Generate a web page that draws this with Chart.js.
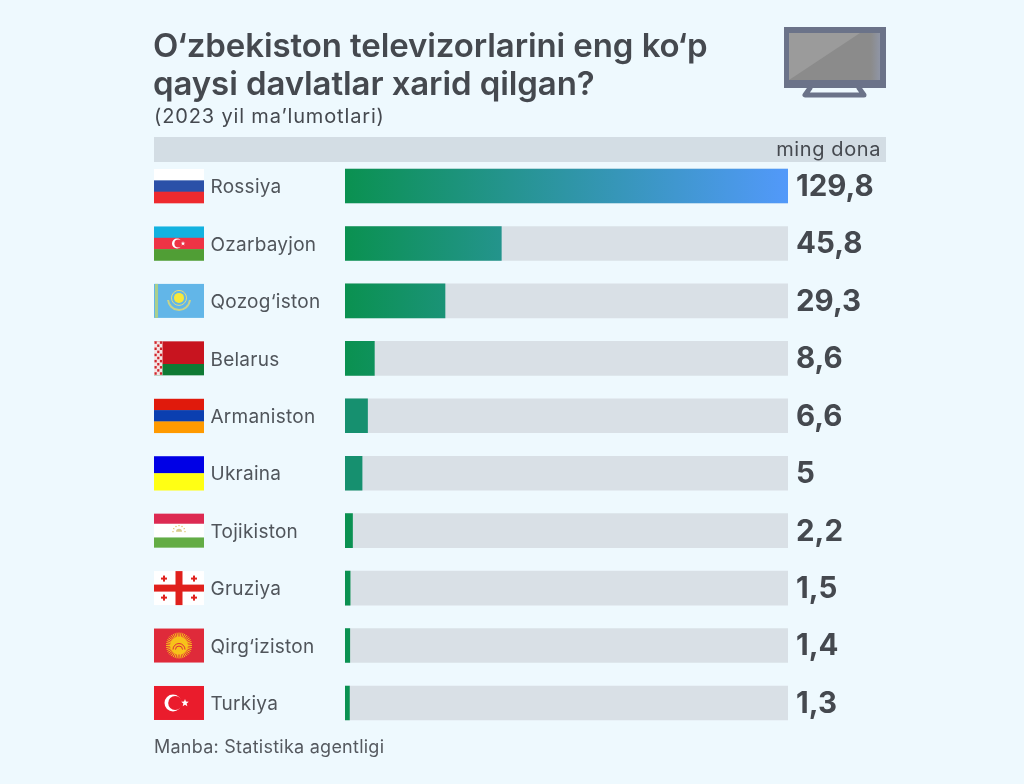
<!DOCTYPE html>
<html>
<head>
<meta charset="utf-8">
<title>Televizor eksporti</title>
<script src="https://cdn.jsdelivr.net/npm/chart.js@4"></script>
<style>
  html, body { margin: 0; padding: 0; background: #eef9fe; }
  #page { position: relative; width: 1024px; height: 784px; overflow: hidden; font-family: Inter, sans-serif; color: #45494f; }
  #page canvas { position: absolute; left: 0; top: 0; }
  .txt { position: absolute; white-space: nowrap; }
  #title { left: 153px; top: 26px; font-size: 33px; line-height: 38px; font-weight: 600; letter-spacing: -0.1px; }
  #subtitle { left: 154px; top: 104px; font-size: 20px; line-height: 24px; letter-spacing: 0.85px; }
  #band { position: absolute; left: 154px; top: 137px; width: 732px; height: 25px; background: #d3dde4; }
  #unit { right: 143px; top: 137px; font-size: 20px; line-height: 24px; letter-spacing: 0.6px; }
  #source { left: 154px; top: 736px; font-size: 18px; line-height: 22px; letter-spacing: 0.25px; color: #55595f; }
  #tv { position: absolute; left: 784px; top: 27px; }
</style>
</head>
<body>
<div id="page">
  <div id="band"></div>
  <canvas id="chart" width="1024" height="784"></canvas>
  <div class="txt" id="title">O‘zbekiston televizorlarini eng ko‘p<br>qaysi davlatlar xarid qilgan?</div>
  <div class="txt" id="subtitle">(2023 yil ma’lumotlari)</div>
  <div class="txt" id="unit">ming dona</div>
  <div class="txt" id="source">Manba: Statistika agentligi</div>
  <svg id="tv" width="102" height="73" viewBox="0 0 102 73">
    <defs>
      <linearGradient id="edge" x1="0" x2="1" y1="0" y2="0">
        <stop offset="0.9" stop-color="#8b8b8b"/>
        <stop offset="1" stop-color="#8f95a5"/>
      </linearGradient>
    </defs>
    <rect x="0" y="0" width="102" height="61" fill="#6b7389"/>
    <rect x="5" y="6" width="91" height="47" fill="url(#edge)"/>
    <path d="M5 53 L5 6 L76 6 Z" fill="#9b9b9b"/>
    <path d="M26 61 L21 68 L80 68 L75 61" fill="none" stroke="#6b7389" stroke-width="5" stroke-linecap="round" stroke-linejoin="round"/>
  </svg>
</div>

<script>
// Data
const countries = ['Rossiya', 'Ozarbayjon', 'Qozog‘iston', 'Belarus', 'Armaniston', 'Ukraina', 'Tojikiston', 'Gruziya', 'Qirg‘iziston', 'Turkiya'];
const values = [129.8, 45.8, 29.3, 8.6, 6.6, 5, 2.2, 1.5, 1.4, 1.3];
const axisMax = 129.8;
const trackValues = countries.map(() => axisMax);

function stripes(ctx, x, y, w, h, colors) {
  colors.forEach((c, i) => {
    ctx.fillStyle = c;
    ctx.fillRect(x, y + h * i / colors.length, w, h / colors.length + 0.3);
  });
}

function crescent(ctx, cx, cy, r, cut, offset, color, bg) {
  ctx.fillStyle = color;
  ctx.beginPath(); ctx.arc(cx, cy, r, 0, Math.PI * 2); ctx.fill();
  ctx.fillStyle = bg;
  ctx.beginPath(); ctx.arc(cx + offset, cy, cut, 0, Math.PI * 2); ctx.fill();
}

function star(ctx, cx, cy, r, color) {
  ctx.fillStyle = color;
  ctx.beginPath();
  for (let i = 0; i < 10; i++) {
    const a = -Math.PI / 2 + i * Math.PI / 5;
    const rr = i % 2 ? r * 0.42 : r;
    ctx.lineTo(cx + Math.cos(a) * rr, cy + Math.sin(a) * rr);
  }
  ctx.closePath();
  ctx.fill();
}

// Flags, same order as countries
const flags = [
  (c, x, y, w, h) => stripes(c, x, y, w, h, ['#ffffff', '#2a50a8', '#ee2a2e']),
  (c, x, y, w, h) => {
    stripes(c, x, y, w, h, ['#12b2e0', '#ee3345', '#509e35']);
    crescent(c, x + w / 2 - 2, y + h / 2, 5, 4, 1.4, '#ffffff', '#ee3345');
    star(c, x + w / 2 + 4, y + h / 2, 2.4, '#ffffff');
  },
  (c, x, y, w, h) => {
    c.fillStyle = '#62b6e8'; c.fillRect(x, y, w, h);
    c.fillStyle = '#a9cf8e'; c.fillRect(x + 1, y, 3, h);
    c.strokeStyle = '#c9d48a'; c.lineWidth = 2;
    c.beginPath(); c.arc(x + w / 2, y + h / 2 - 2, 11, 0.1, Math.PI - 0.1); c.stroke();
    c.strokeStyle = '#e2dc7c'; c.lineWidth = 1;
    c.beginPath(); c.arc(x + w / 2, y + h / 2 - 3, 7.5, 0, Math.PI * 2); c.stroke();
    c.fillStyle = '#f6e83a';
    c.beginPath(); c.arc(x + w / 2, y + h / 2 - 3, 5, 0, Math.PI * 2); c.fill();
  },
  (c, x, y, w, h) => {
    c.fillStyle = '#c8141f'; c.fillRect(x, y, w, h * 2 / 3);
    c.fillStyle = '#0f7a34'; c.fillRect(x, y + h * 2 / 3, w, h / 3);
    c.fillStyle = '#f4e4e4'; c.fillRect(x, y, 8.5, h);
    c.fillStyle = '#d0242c';
    for (let r = 0; r < 11; r++) {
      for (let q = 0; q < 3; q++) {
        if ((r + q) % 2 === 0) c.fillRect(x + 0.5 + q * 2.7, y + r * h / 11, 2.2, h / 11 - 0.6);
      }
    }
  },
  (c, x, y, w, h) => stripes(c, x, y, w, h, ['#e01a0c', '#0b3fb0', '#ff9a00']),
  (c, x, y, w, h) => stripes(c, x, y, w, h, ['#0000e6', '#ffff14']),
  (c, x, y, w, h) => {
    c.fillStyle = '#dd2a52'; c.fillRect(x, y, w, h * 0.3);
    c.fillStyle = '#ffffff'; c.fillRect(x, y + h * 0.3, w, h * 0.4);
    c.fillStyle = '#63ac45'; c.fillRect(x, y + h * 0.7, w, h * 0.3);
    c.fillStyle = '#d9c98a';
    c.beginPath(); c.arc(x + w / 2, y + h / 2 + 1, 3, Math.PI, 0); c.fill();
    for (let i = 0; i < 7; i++) {
      const a = Math.PI + i * Math.PI / 6;
      star(c, x + w / 2 + Math.cos(a) * 6, y + h / 2 + 1 + Math.sin(a) * 6, 1, '#d9b44a');
    }
  },
  (c, x, y, w, h) => {
    c.fillStyle = '#ffffff'; c.fillRect(x, y, w, h);
    c.fillStyle = '#e0201c';
    c.fillRect(x + w / 2 - 3.5, y, 7, h);
    c.fillRect(x, y + h / 2 - 3.5, w, 7);
    [[0.2, 0.22], [0.8, 0.22], [0.2, 0.78], [0.8, 0.78]].forEach(p => {
      c.fillRect(x + w * p[0] - 3, y + h * p[1] - 1, 6, 2);
      c.fillRect(x + w * p[0] - 1, y + h * p[1] - 3, 2, 6);
    });
  },
  (c, x, y, w, h) => {
    const cx = x + w / 2, cy = y + h / 2;
    c.fillStyle = '#df2a3a'; c.fillRect(x, y, w, h);
    c.strokeStyle = '#f7c21a'; c.lineWidth = 1;
    for (let i = 0; i < 40; i++) {
      const a = i * Math.PI / 20;
      c.beginPath();
      c.moveTo(cx + Math.cos(a) * 8, cy + Math.sin(a) * 8);
      c.lineTo(cx + Math.cos(a) * 13, cy + Math.sin(a) * 13);
      c.stroke();
    }
    c.fillStyle = '#f7c21a'; c.beginPath(); c.arc(cx, cy, 9, 0, Math.PI * 2); c.fill();
    c.strokeStyle = '#df2a3a'; c.lineWidth = 1;
    c.beginPath(); c.arc(cx, cy + 4, 6, Math.PI, 0); c.stroke();
    c.beginPath(); c.arc(cx, cy + 4, 3.5, Math.PI, 0); c.stroke();
  },
  (c, x, y, w, h) => {
    c.fillStyle = '#ea1c2c'; c.fillRect(x, y, w, h);
    crescent(c, x + 19, y + h / 2, 8.5, 7, 2.2, '#ffffff', '#ea1c2c');
    star(c, x + 31, y + h / 2, 4, '#ffffff');
  }
];

const flagPlugin = {
  id: 'flags',
  afterDatasetsDraw(chart) {
    const { ctx, scales: { y } } = chart;
    countries.forEach((name, i) => {
      const cy = y.getPixelForValue(i);
      flags[i](ctx, 154, cy - 17, 50, 34);
    });
  }
};

// Country names and values sit slightly under the bar centre in the original
const rowLabels = {
  id: 'rowLabels',
  afterDatasetsDraw(chart) {
    const { ctx, chartArea, scales: { y } } = chart;
    ctx.save();
    ctx.textAlign = 'left';
    ctx.textBaseline = 'middle';
    ctx.font = '400 19px Inter, sans-serif';
    ctx.letterSpacing = '0.25px';
    ctx.fillStyle = '#50555b';
    countries.forEach((name, i) => ctx.fillText(name, 210.5, y.getPixelForValue(i) + 1.5));
    ctx.font = '700 29.5px Inter, sans-serif';
    ctx.letterSpacing = '0px';
    ctx.fillStyle = '#45494f';
    values.forEach((v, i) => {
      ctx.fillText(String(v).replace('.', ','), chartArea.right + 8, y.getPixelForValue(i) + 1);
    });
    ctx.restore();
  }
};

function barColor(context) {
  const { ctx, chartArea } = context.chart;
  if (!chartArea) return '#0a9150';
  // Armaniston and Ukraina are a flat teal in the original
  if (context.dataIndex === 4 || context.dataIndex === 5) return '#16906f';
  const g = ctx.createLinearGradient(chartArea.left, 0, chartArea.right, 0);
  g.addColorStop(0, '#0a9150');
  g.addColorStop(1, '#5299fa');
  return g;
}

new Chart(document.getElementById('chart').getContext('2d'), {
  type: 'bar',
  data: {
    labels: countries,
    datasets: [
      { label: 'ming dona', data: values, backgroundColor: barColor, barThickness: 34, grouped: false, order: 1 },
      { label: 'fon', data: trackValues, backgroundColor: '#d9e0e6', barThickness: 34, grouped: false, order: 2 }
    ]
  },
  options: {
    indexAxis: 'y',
    responsive: false,
    animation: false,
    layout: { padding: { left: 211, right: 236, top: 157.3, bottom: 52.3 } },
    scales: {
      x: { display: false, min: 0, max: axisMax },
      y: {
        afterFit(axis) { axis.width = 134; },
        border: { display: false },
        grid: { display: false },
        ticks: { display: false }
      }
    },
    plugins: { legend: { display: false }, tooltip: { enabled: false } }
  },
  plugins: [flagPlugin, rowLabels]
});
</script>
</body>
</html>
